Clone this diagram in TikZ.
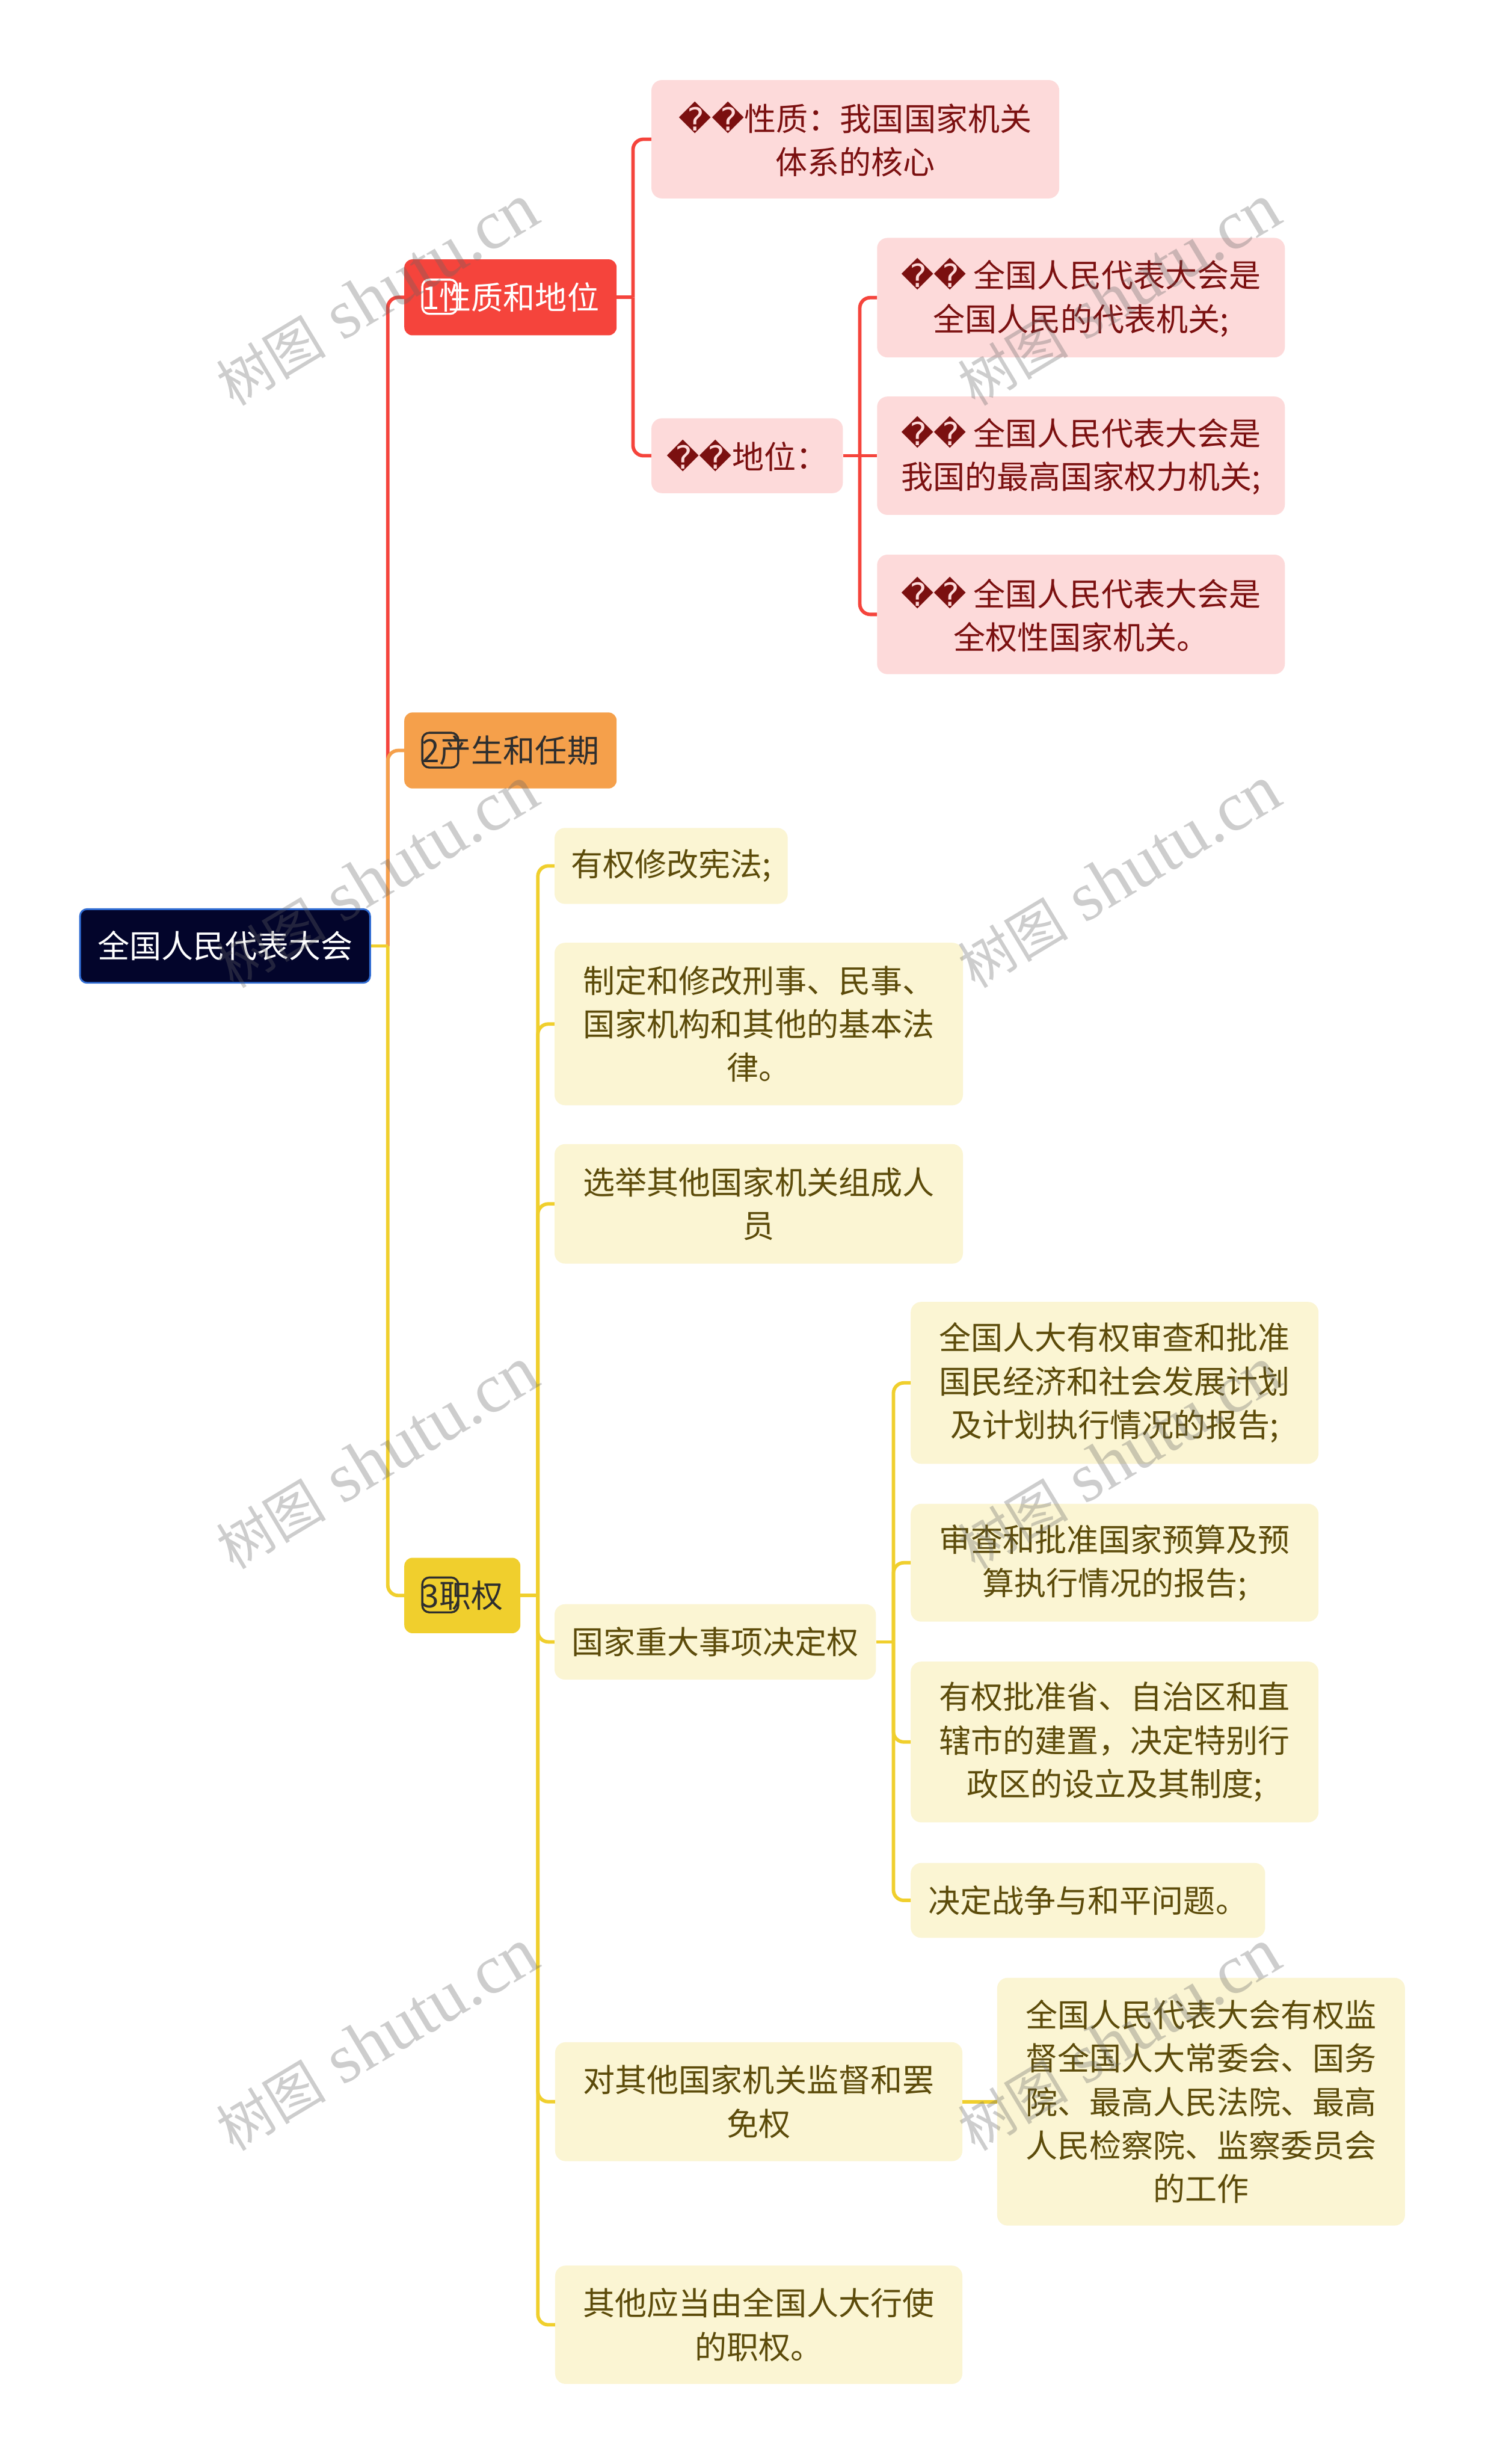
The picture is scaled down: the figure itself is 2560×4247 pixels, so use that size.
\documentclass[tikz,border=0pt]{standalone}
\usepackage{fontspec}
\setmainfont{Noto Sans CJK SC}
\newfontfamily\repfont{DejaVu Sans}
\newfontfamily\wmlatin{Liberation Serif}
\newfontfamily\wmcjk{Noto Sans CJK SC}
\newcommand\rp{{\repfont\char"FFFD}}
\definecolor{cRed}{HTML}{F5443C}
\definecolor{cOrange}{HTML}{F5A04B}
\definecolor{cYellow}{HTML}{F0CF2D}
\definecolor{cPink}{HTML}{FDDADA}
\definecolor{cPinkText}{HTML}{7B1010}
\definecolor{cCream}{HTML}{FBF5D3}
\definecolor{cCreamText}{HTML}{5C4B0A}
\definecolor{cRoot}{HTML}{03052B}
\definecolor{cRootBorder}{HTML}{2F6BD2}
\definecolor{cDark}{HTML}{2E2E2E}
\definecolor{cWm}{HTML}{646464}
\tikzset{
  box/.style={rectangle, rounded corners=18pt, inner sep=0pt, align=center,
    font=\fontsize{55}{75}\selectfont},
  pinkbox/.style={box, fill=cPink, text=cPinkText},
  creambox/.style={box, fill=cCream, text=cCreamText},
  levelone/.style={box, rounded corners=14pt, minimum width=366pt, minimum height=131pt},
  wire/.style={line width=6pt},
  wRed/.style={wire, draw=cRed},
  wOrange/.style={wire, draw=cOrange},
  wYellow/.style={wire, draw=cYellow},
  rc/.style={rounded corners=18pt},
  iconbox/.style={line width=3.5pt, rounded corners=12pt},
  wm/.style={rotate=31, text=cWm, opacity=0.32, inner sep=0pt}
}
\begin{document}
\begin{tikzpicture}[x=1pt,y=-1pt]
\useasboundingbox (0,0) rectangle (2560,4247);
\fill[white] (0,0) rectangle (2560,4247);

% root
\node[box, rounded corners=12pt, fill=cRoot, draw=cRootBorder, line width=3pt, text=white,
  minimum width=500pt, minimum height=127pt] (root) at (388,1630.5) {全国人民代表大会};

% level one
\node[levelone, fill=cRed, text=white] (n1) at (880,512.5) {1性质和地位};
\node[levelone, fill=cOrange, text=cDark] (n2) at (880,1293.5) {2产生和任期};
\node[levelone, fill=cYellow, text=cDark, minimum width=200pt, minimum height=130pt] (n3) at (797,2750) {3职权};

% icons
\draw[iconbox, draw=white] (728,482) rectangle (788,541);
\draw[iconbox, draw=cDark] (728,1263) rectangle (790,1323);
\draw[iconbox, draw=cDark] (728,2719) rectangle (790,2779);

% red branch
\node[pinkbox, minimum width=703pt, minimum height=204pt] (a1) at (1474.5,240)
  {\rp\rp 性质：我国国家机关\\体系的核心};
\node[pinkbox, minimum width=330pt, minimum height=129pt] (a2) at (1288,785.5)
  {\rp\rp 地位：};
\node[pinkbox, minimum width=703pt, minimum height=206pt] (b1) at (1863.5,513)
  {\rp\rp\ 全国人民代表大会是\\全国人民的代表机关;};
\node[pinkbox, minimum width=703pt, minimum height=204pt] (b2) at (1863.5,785.5)
  {\rp\rp\ 全国人民代表大会是\\我国的最高国家权力机关;};
\node[pinkbox, minimum width=703pt, minimum height=206pt] (b3) at (1863.5,1059)
  {\rp\rp\ 全国人民代表大会是\\全权性国家机关。};

% yellow branch
\node[creambox, minimum width=402pt, minimum height=131pt] (y1) at (1157,1492.5) {有权修改宪法;};
\node[creambox, minimum width=704pt, minimum height=280pt] (y2) at (1308,1765)
  {制定和修改刑事、民事、\\国家机构和其他的基本法\\律。};
\node[creambox, minimum width=704pt, minimum height=206pt] (y3) at (1308,2075)
  {选举其他国家机关组成人\\员};
\node[creambox, minimum width=554pt, minimum height=130pt] (y4) at (1233,2830) {国家重大事项决定权};
\node[creambox, minimum width=702pt, minimum height=205pt] (y5) at (1308,3622.5)
  {对其他国家机关监督和罢\\免权};
\node[creambox, minimum width=702pt, minimum height=204pt] (y6) at (1308,4007)
  {其他应当由全国人大行使\\的职权。};

\node[creambox, minimum width=703pt, minimum height=279pt] (z1) at (1921.5,2383.5)
  {全国人大有权审查和批准\\国民经济和社会发展计划\\及计划执行情况的报告;};
\node[creambox, minimum width=703pt, minimum height=203pt] (z2) at (1921.5,2693.5)
  {审查和批准国家预算及预\\算执行情况的报告;};
\node[creambox, minimum width=703pt, minimum height=277pt] (z3) at (1921.5,3002.5)
  {有权批准省、自治区和直\\辖市的建置，决定特别行\\政区的设立及其制度;};
\node[creambox, minimum width=611pt, minimum height=129pt] (z4) at (1875.5,3275.5)
  {决定战争与和平问题。};

\node[creambox, minimum width=703pt, minimum height=427pt] (w1) at (2070.5,3622.5)
  {全国人民代表大会有权监\\督全国人大常委会、国务\\院、最高人民法院、最高\\人民检察院、监察委员会\\的工作};

% connectors: red
\draw[wRed, rc] (root.east) ++(29,0) |- (n1.west);
\draw[wRed] (n1.east) -- ++(28,0);
\draw[wRed, rc] (n1.east) ++(28,0) |- (a1.west);
\draw[wRed, rc] (n1.east) ++(28,0) |- (a2.west);
\draw[wRed] (a2.east) -- ++(29,0);
\draw[wRed, rc] (a2.east) ++(29,0) |- (b1.west);
\draw[wRed] (a2.east) -- (b2.west);
\draw[wRed, rc] (a2.east) ++(29,0) |- (b3.west);
% orange
\draw[wOrange, rc] (root.east) ++(29,0) |- (n2.west);
% yellow
\draw[wYellow] (root.east) -- ++(29,0);
\draw[wYellow, rc] (root.east) ++(29,0) |- (n3.west);
\draw[wYellow] (n3.east) -- ++(30,0);
\foreach \k in {y1,y2,y3,y4,y5,y6}{
  \draw[wYellow, rc] (n3.east) ++(30,0) |- (\k.west);
}
\draw[wYellow] (y4.east) -- ++(30,0);
\foreach \k in {z1,z2,z3,z4}{
  \draw[wYellow, rc] (y4.east) ++(30,0) |- (\k.west);
}
\draw[wYellow] (y5.east) -- (w1.west);

% watermarks
\foreach \wx/\wy [count=\i] in {650/509,1929/509,650/1512,1929/1512,650/2514,1929/2514,650/3516,1929/3516}{
  \node[wm] (wm\i) at (\wx,\wy) {{\wmcjk\fontsize{95}{95}\selectfont 树图}{\wmlatin\fontsize{120}{120}\selectfont\ shutu.cn}};
}
\end{tikzpicture}
\end{document}
